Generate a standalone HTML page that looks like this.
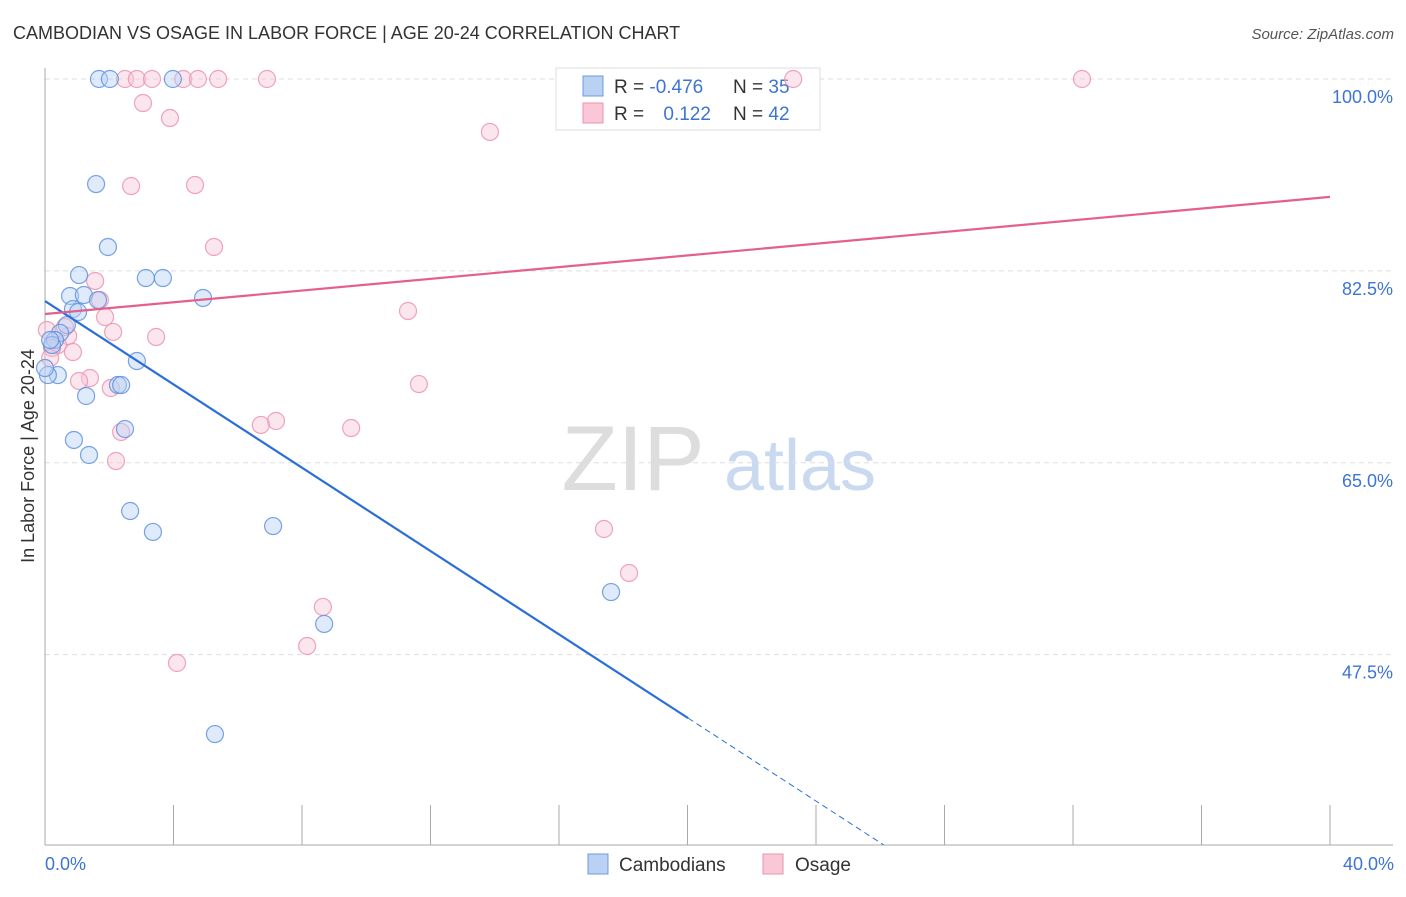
<!DOCTYPE html>
<html><head><meta charset="utf-8"><style>
body{margin:0;background:#fff;font-family:"Liberation Sans",sans-serif}
svg text{font-family:"Liberation Sans",sans-serif}
</style></head><body>
<svg id="chart" width="1406" height="892">
<text x="13" y="39" font-size="18" fill="#333">CAMBODIAN VS OSAGE IN LABOR FORCE | AGE 20-24 CORRELATION CHART</text>
<text x="1394" y="39" font-size="15" font-style="italic" fill="#555" text-anchor="end">Source: ZipAtlas.com</text>
<g>
<text x="633" y="490" font-size="92" font-family="Liberation Serif" fill="#ddd" text-anchor="middle">ZIP</text>
<text x="800" y="490" font-size="72" fill="#c9d9ef" text-anchor="middle">atlas</text></g>
<g id="grid"></g>
<g>
<rect x="556" y="68" width="264" height="62" fill="#fff" stroke="#ddd"/>
<rect x="583" y="76" width="20" height="20" fill="#b9d1f3" stroke="#6d9be0"/>
<rect x="583" y="103" width="20" height="20" fill="#f9c7d6" stroke="#ec93b0"/>
<text x="614" y="93" font-size="19" fill="#333">R = <tspan fill="#3d74d4">-0.476</tspan></text>
<text x="733" y="93" font-size="19" fill="#333">N = <tspan fill="#3d74d4">35</tspan></text>
<text x="614" y="120" font-size="19" fill="#333">R = <tspan fill="#3d74d4" dx="14">0.122</tspan></text>
<text x="733" y="120" font-size="19" fill="#333">N = <tspan fill="#3d74d4">42</tspan></text></g>
<g id="marks"></g>
<text transform="translate(34,456) rotate(-90)" font-size="18" fill="#333" text-anchor="middle">In Labor Force | Age 20-24</text>
<text x="45" y="870" font-size="18" fill="#3d74d4">0.0%</text>
<text x="1394" y="870" font-size="18" fill="#3d74d4" text-anchor="end">40.0%</text>
<g>
<rect x="588" y="854" width="20" height="20" fill="#b9d1f3" stroke="#6d9be0"/>
<text x="619" y="871" font-size="19" fill="#333">Cambodians</text>
<rect x="763" y="854" width="20" height="20" fill="#f9c7d6" stroke="#ec93b0"/>
<text x="795" y="871" font-size="19" fill="#333">Osage</text></g>
</svg>
<script>
const yTicks=[100,82.5,65,47.5];
const yTickLabels=["100.0%","82.5%","65.0%","47.5%"];
const cambX=[1.68,2.02,3.98,1.59,1.96,1.06,3.14,3.67,0.78,1.21,4.92,1.65,0.87,1.03,0.68,0.47,0.31,0.22,2.86,0.40,0.09,2.27,2.37,1.28,2.49,0.90,1.37,2.65,7.10,3.36,17.62,8.69,5.29,0.16,0];
const cambY=[100,100,100,90.42,84.68,82.12,81.85,81.85,80.21,80.30,80.03,79.84,79.02,78.75,77.56,76.84,76.20,75.74,74.28,73.00,73.00,72.09,72.09,71.09,68.08,67.08,65.71,60.60,59.23,58.69,53.21,50.30,40.26,76.20,73.64];
const osX=[2.49,2.86,3.33,4.30,4.76,5.39,6.91,32.28,23.29,3.05,3.89,13.85,2.68,4.67,5.26,1.56,1.71,1.87,11.30,3.46,2.12,0.72,0.40,0.87,0.22,1.40,1.06,2.05,11.64,2.37,7.19,6.72,9.53,2.21,17.40,18.18,8.65,8.16,4.11,0.16,0.62,0.06];
const osY=[100,100,100,100,100,100,100,100,100,97.81,96.44,95.17,90.24,90.33,84.68,81.58,79.84,78.29,78.84,76.47,76.93,76.56,75.74,75.10,75.47,72.73,72.46,71.82,72.18,67.81,68.81,68.45,68.17,65.16,58.96,54.95,51.85,48.29,46.74,74.56,77.38,77.11];
const cambTrend=[79.75,-1.9];
const osTrend=[78.57,0.267];
const NS="http://www.w3.org/2000/svg";
const X=v=>45+v/40*1285, Y=v=>79+(100-v)/0.0912;
function mk(t,a,p){const e=document.createElementNS(NS,t);for(const k in a)e.setAttribute(k,a[k]);p.appendChild(e);return e;}
const g=document.getElementById('grid'),m=document.getElementById('marks');
yTicks.forEach((t,i)=>{
 const l=mk('line',{x1:45,x2:1393,y1:Y(t),y2:Y(t),stroke:'#ddd','stroke-dasharray':'5,4'},g);
 
 
 const tx=mk('text',{x:1393,y:Y(t)+24,'font-size':18,fill:'#3d74d4','text-anchor':'end'},g);
 tx.textContent=yTickLabels[i];
 
 
});
const ax=mk('line',{x1:45,x2:45,y1:68,y2:845,stroke:'#aaa'},g);


const bx=mk('line',{x1:45,x2:1393,y1:845,y2:845,stroke:'#aaa'},g);


for(let i=1;i<=10;i++){const t=mk('line',{x1:X(i*4),x2:X(i*4),y1:805,y2:845,stroke:'#aaa'},g);
 
 }
function dots(xs,ys,fill,stroke,name){xs.forEach((x,i)=>{const c=mk('circle',{cx:X(x),cy:Y(ys[i]),r:8.5,fill:fill,'fill-opacity':0.45,stroke:stroke,'stroke-opacity':0.85,'stroke-width':1.2},m);
 
 });}
dots(osX,osY,'#f9c7d6','#ec93b0','osage-point');
dots(cambX,cambY,'#b9d1f3','#5f93e0','cambodian-point');
const bEnd=20.02, bDash=(30.14-cambTrend[0])/cambTrend[1];
const l1=mk('line',{x1:X(0),y1:Y(cambTrend[0]),x2:X(bEnd),y2:Y(cambTrend[0]+cambTrend[1]*bEnd),stroke:'#2a6fd8','stroke-width':2.2},m);


const l2=mk('line',{x1:X(bEnd),y1:Y(cambTrend[0]+cambTrend[1]*bEnd),x2:X(bDash),y2:Y(30.14),stroke:'#2a6fd8','stroke-width':1,'stroke-dasharray':'6,4'},m);


const l3=mk('line',{x1:X(0),y1:Y(osTrend[0]),x2:X(40),y2:Y(osTrend[0]+osTrend[1]*40),stroke:'#e4608c','stroke-width':2.2},m);


</script>
</body></html>
